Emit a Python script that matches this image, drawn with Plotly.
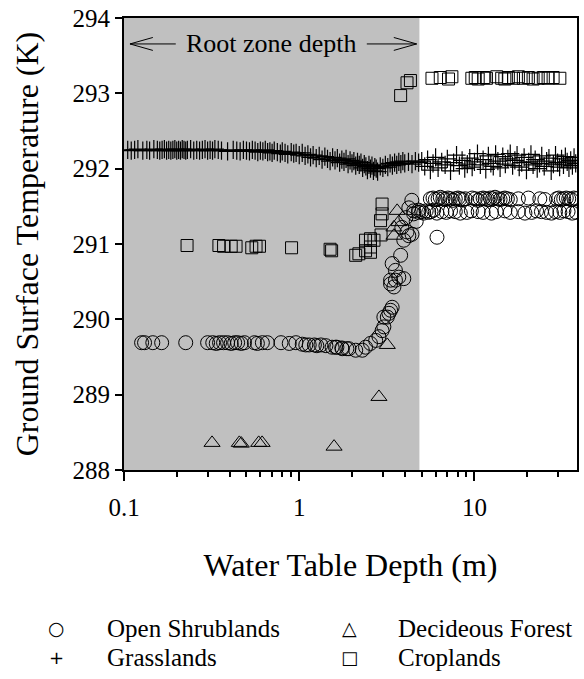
import plotly.graph_objects as go

# ---------------- data ----------------
ROOT_ZONE_DEPTH = 4.85  # m, edge of the shaded band

shrub_x = [0.126, 0.131, 0.146, 0.164, 0.225, 0.300, 0.321, 0.336, 0.351, 0.370,
           0.390, 0.409, 0.428, 0.445, 0.467, 0.487, 0.555, 0.577, 0.616, 0.658,
           0.787, 0.877, 0.957, 1.04, 1.09, 1.14, 1.22, 1.26, 1.33, 1.42,
           1.54, 1.61, 1.64, 1.75, 1.76, 1.87, 1.92, 2.10, 2.29, 2.39,
           2.55, 2.73, 2.85, 2.97, 3.04, 3.04, 3.18, 3.25, 3.32, 3.39,
           3.32, 3.47, 3.54, 3.32, 3.70, 3.95, 3.79, 3.39, 3.54, 3.95,
           4.22, 4.40, 4.12, 4.39, 4.22, 4.06, 3.85, 4.50, 4.80, 4.65,
           6.11,
           5.60, 5.80, 5.98, 6.20, 6.38, 6.60, 6.82, 7.05, 7.28, 7.55,
           7.77, 8.05, 8.29, 8.55, 8.85, 9.70, 10.1, 10.5, 10.8, 11.2,
           11.5, 11.9, 12.3, 12.7, 13.1, 13.6, 14.0, 14.5, 14.9, 15.4,
           16.0, 17.8, 20.3, 23.6, 25.2, 29.4, 30.3, 31.3, 32.3, 33.4,
           34.5, 35.7, 36.9, 38.1,
           4.50, 4.80, 5.00, 5.13, 5.30, 5.48, 5.65, 5.85, 6.10, 6.52,
           6.90, 7.30, 7.77, 8.30, 9.04, 9.60, 10.5, 11.2, 12.5, 13.3,
           14.9, 16.0, 17.8, 19.4, 21.2, 22.6, 24.1, 25.8, 27.5, 29.0,
           30.7, 32.4, 34.2, 36.1, 38.1]
shrub_y = [289.69, 289.69, 289.69, 289.69, 289.69, 289.69, 289.69, 289.68, 289.69, 289.69,
           289.69, 289.68, 289.69, 289.69, 289.68, 289.69, 289.69, 289.68, 289.69, 289.69,
           289.69, 289.68, 289.69, 289.67, 289.66, 289.66, 289.66, 289.65, 289.66, 289.65,
           289.63, 289.63, 289.63, 289.62, 289.61, 289.61, 289.61, 289.59, 289.59, 289.63,
           289.68, 289.72, 289.77, 289.85, 289.90, 290.03, 290.03, 290.08, 290.12, 290.16,
           290.47, 290.43, 290.52, 290.52, 290.56, 290.54, 290.85, 290.74, 290.65, 291.05,
           291.11, 291.13, 291.16, 291.58, 291.48, 291.35, 291.22, 291.40, 291.45, 291.30,
           291.09,
           291.60, 291.61, 291.59, 291.60, 291.62, 291.60, 291.59, 291.61, 291.60, 291.58,
           291.60, 291.61, 291.60, 291.59, 291.60, 291.61, 291.60, 291.58, 291.60, 291.61,
           291.60, 291.59, 291.61, 291.60, 291.62, 291.60, 291.59, 291.60, 291.61, 291.60,
           291.59, 291.60, 291.61, 291.60, 291.59, 291.60, 291.61, 291.59, 291.60, 291.61,
           291.60, 291.59, 291.61, 291.60,
           291.44, 291.42, 291.43, 291.41, 291.44, 291.42, 291.43, 291.45, 291.41, 291.43,
           291.42, 291.44, 291.43, 291.41, 291.42, 291.44, 291.43, 291.42, 291.41, 291.43,
           291.44, 291.42, 291.43, 291.41, 291.42, 291.44, 291.43, 291.42, 291.41, 291.43,
           291.42, 291.44, 291.43, 291.41, 291.42]

grass_x = [0.105, 0.110, 0.115, 0.120, 0.128, 0.135, 0.140, 0.148, 0.155, 0.160,
           0.165, 0.170, 0.175, 0.180, 0.185, 0.190, 0.195, 0.200, 0.205, 0.210,
           0.215, 0.220, 0.225, 0.230, 0.240, 0.250, 0.260, 0.270, 0.280, 0.290,
           0.300, 0.310, 0.320, 0.330, 0.345, 0.360, 0.390, 0.420, 0.440, 0.460,
           0.480, 0.500, 0.520, 0.540, 0.560, 0.580, 0.600, 0.620, 0.640, 0.660,
           0.680, 0.700, 0.720, 0.750, 0.780, 0.800, 0.830, 0.860, 0.900, 0.930,
           0.960, 1.00, 1.04, 1.08, 1.12, 1.16, 1.20, 1.25, 1.30, 1.35,
           1.40, 1.45, 1.50, 1.55, 1.60, 1.65, 1.70, 1.75, 1.80, 1.85,
           1.90, 1.95, 2.00, 2.05, 2.10, 2.15, 2.20, 2.25, 2.30, 2.35,
           2.40, 2.45, 2.50, 2.55, 2.60, 2.65, 2.70, 2.75, 2.80, 2.90,
           3.00, 3.10, 3.20, 3.30, 3.40, 3.50, 3.60, 3.70, 3.80, 3.90,
           4.00, 4.20, 4.40, 4.60, 4.80,
           5.00, 5.20, 5.40, 5.60, 5.80, 6.00, 6.20, 6.50, 6.80, 7.00,
           7.30, 7.60, 7.90, 8.20, 8.50, 8.80, 9.10, 9.40, 9.70, 10.0,
           10.4, 10.8, 11.2, 11.6, 12.0, 12.4, 12.8, 13.2, 13.6, 14.0,
           14.5, 15.0, 15.5, 16.0, 16.5, 17.0, 17.5, 18.0, 18.6, 19.2,
           19.8, 20.4, 21.0, 21.6, 22.2, 22.8, 23.5, 24.2, 25.0, 25.8,
           26.6, 27.4, 28.2, 29.0, 29.8, 30.6, 31.4, 32.2, 33.0, 33.8,
           34.6, 35.4, 36.2, 37.0, 37.8]
grass_y = [292.25, 292.24, 292.25, 292.26, 292.24, 292.25, 292.24, 292.26, 292.25, 292.24,
           292.25, 292.26, 292.24, 292.25, 292.24, 292.25, 292.26, 292.24, 292.25, 292.24,
           292.26, 292.25, 292.24, 292.25, 292.26, 292.24, 292.25, 292.24, 292.25, 292.26,
           292.24, 292.25, 292.24, 292.26, 292.25, 292.24, 292.23, 292.25, 292.24, 292.23,
           292.25, 292.24, 292.23, 292.25, 292.24, 292.22, 292.24, 292.23, 292.25, 292.22,
           292.23, 292.21, 292.24, 292.22, 292.20, 292.23, 292.21, 292.19, 292.22, 292.20,
           292.21, 292.18, 292.21, 292.17, 292.19, 292.15, 292.18, 292.14, 292.17, 292.12,
           292.16, 292.13, 292.10, 292.15, 292.11, 292.14, 292.08, 292.12, 292.09, 292.13,
           292.06, 292.11, 292.07, 292.10, 292.04, 292.09, 292.05, 292.08, 292.01, 292.06,
           292.03, 291.98, 292.05, 292.00, 292.04, 291.97, 292.02, 292.00, 291.96, 292.03,
           292.01, 292.05, 292.02, 292.07, 292.04, 292.08, 292.05, 292.09, 292.06, 292.10,
           292.07, 292.09, 292.06, 292.10, 292.08,
           292.10, 292.03, 292.12, 291.98, 292.07, 292.15, 292.01, 292.09, 292.05, 292.13,
           291.97, 292.08, 292.18, 292.04, 292.11, 292.00, 292.06, 292.14, 292.02, 292.09,
           292.20, 292.05, 292.12, 291.99, 292.17, 292.07, 292.03, 292.19, 292.10, 292.01,
           292.16, 292.06, 292.13, 292.20, 292.04, 292.11, 292.18, 292.02, 292.08, 292.15,
           291.98, 292.09, 292.19, 292.05, 292.12, 292.00, 292.07, 292.17, 292.03, 292.10,
           292.14, 291.97, 292.06, 292.18, 292.08, 292.02, 292.13, 292.05, 292.16, 292.09,
           292.01, 292.11, 292.04, 292.15, 292.07]

forest_x = [0.318, 0.455, 0.467, 0.587, 0.614, 1.58, 2.85, 3.18, 3.47, 3.47, 3.62, 3.70]
forest_y = [288.36, 288.36, 288.35, 288.36, 288.36, 288.31, 288.97, 289.66, 291.11, 291.22, 291.44, 291.29]

crop_x = [0.229, 0.348, 0.370, 0.409, 0.436, 0.536, 0.567, 0.593, 0.904,
          1.50, 1.53, 2.10, 2.19, 2.39, 2.55, 2.55, 2.67, 2.39, 2.55,
          2.91, 2.93, 2.97, 2.97,
          3.79, 4.12, 4.31,
          5.72, 6.38, 7.11, 7.43, 9.66, 10.1, 10.5, 11.3, 11.7, 13.4,
          14.3, 14.9, 15.6, 16.7, 17.8, 19.0, 20.3, 21.6, 23.1, 24.7,
          26.3, 28.1, 30.7]
crop_y = [290.98, 290.98, 290.97, 290.97, 290.97, 290.95, 290.97, 290.97, 290.95,
          290.93, 290.91, 290.85, 290.87, 290.91, 290.96, 290.89, 291.05, 291.05, 291.07,
          291.31, 291.12, 291.53, 291.40,
          292.97, 293.14, 293.17,
          293.20, 293.21, 293.19, 293.22, 293.20, 293.21, 293.19, 293.21, 293.20, 293.22,
          293.20, 293.19, 293.21, 293.20, 293.22, 293.20, 293.21, 293.19, 293.20, 293.21,
          293.20, 293.21, 293.20]

x_tick_vals = [0.1, 1, 10]
x_tick_text = ["0.1", "1", "10"]
x_minor_vals = [0.2, 0.3, 0.4, 0.5, 0.6, 0.7, 0.8, 0.9,
                2, 3, 4, 5, 6, 7, 8, 9, 20, 30]
y_tick_vals = [288, 289, 290, 291, 292, 293, 294]

legend_items = [("○", "Open Shrublands", 19), ("+", "Grasslands", 18),
                ("△", "Decideous Forest", 19), ("□", "Croplands", 18)]

# ---------------- figure ----------------
FONT = "Liberation Serif, Times New Roman, serif"
BLACK = "black"

fig = go.Figure()

fig.add_shape(type="rect", xref="x", yref="paper",
              x0=0.1, x1=ROOT_ZONE_DEPTH, y0=0, y1=1,
              fillcolor="#c0c0c0", line=dict(width=0), layer="below")

fig.add_trace(go.Scatter(x=crop_x, y=crop_y, mode="markers", name="Croplands",
                         marker=dict(symbol="square-open", size=12,
                                     color=BLACK, line=dict(width=1, color=BLACK))))
fig.add_trace(go.Scatter(x=forest_x, y=forest_y, mode="markers", name="Decideous Forest",
                         marker=dict(symbol="triangle-up-open", size=14,
                                     color=BLACK, line=dict(width=1, color=BLACK))))
fig.add_trace(go.Scatter(x=grass_x, y=grass_y, mode="markers", name="Grasslands",
                         marker=dict(symbol="cross-thin-open", size=13,
                                     color=BLACK, line=dict(width=1.2, color=BLACK))))
fig.add_trace(go.Scatter(x=shrub_x, y=shrub_y, mode="markers", name="Open Shrublands",
                         marker=dict(symbol="circle-open", size=14,
                                     color=BLACK, line=dict(width=1, color=BLACK))))

# "Root zone depth" label with double-sided arrow
arrow_y = 0.9426
dy = 0.0143
for tip, tail, arm in [(0.0132, 0.1143, 0.0637), (0.646, 0.536, 0.5956)]:
    fig.add_shape(type="line", xref="paper", yref="paper",
                  x0=tip, x1=tail, y0=arrow_y, y1=arrow_y,
                  line=dict(color=BLACK, width=1))
    fig.add_shape(type="path", xref="paper", yref="paper",
                  path=f"M {arm},{arrow_y + dy} L {tip},{arrow_y} L {arm},{arrow_y - dy}",
                  line=dict(color=BLACK, width=1))
fig.add_annotation(text="Root zone depth", xref="paper", yref="paper",
                   x=0.325, y=arrow_y, showarrow=False,
                   xanchor="center", yanchor="middle",
                   font=dict(family=FONT, size=26, color=BLACK))

# key below the plot
key_pos = [(-0.150, -0.0418, -0.3499), (-0.150, -0.0418, -0.4139),
           (0.4967, 0.600, -0.3499), (0.4967, 0.600, -0.4139)]
for (sym, label, sym_size), (xs, xt, yy) in zip(legend_items, key_pos):
    fig.add_annotation(text=sym, xref="paper", yref="paper", x=xs, y=yy,
                       showarrow=False, xanchor="center", yanchor="middle",
                       font=dict(family="DejaVu Sans", size=sym_size, color=BLACK))
    fig.add_annotation(text=label, xref="paper", yref="paper", x=xt, y=yy,
                       showarrow=False, xanchor="left", yanchor="middle",
                       font=dict(family=FONT, size=25, color=BLACK))

fig.update_layout(
    width=584, height=679,
    margin=dict(l=124, r=5, t=17, b=209),
    paper_bgcolor="white", plot_bgcolor="white",
    showlegend=False,
    font=dict(family=FONT, color=BLACK),
)
fig.update_xaxes(
    type="log", range=[-1, 1.585],
    tickvals=x_tick_vals, ticktext=x_tick_text,
    ticks="outside", ticklen=9, tickwidth=2, tickcolor=BLACK,
    ticklabelstandoff=5,
    minor=dict(tickvals=x_minor_vals, ticks="outside", ticklen=5,
               tickwidth=1.5, tickcolor=BLACK, showgrid=False),
    showline=True, linewidth=2, linecolor=BLACK, mirror=True,
    showgrid=False, zeroline=False,
    tickfont=dict(family=FONT, size=25, color=BLACK),
    title=dict(text="Water Table Depth (m)", standoff=34,
               font=dict(family=FONT, size=32, color=BLACK)),
)
fig.update_yaxes(
    range=[288, 294], tickvals=y_tick_vals,
    ticks="outside", ticklen=7, tickwidth=2, tickcolor=BLACK,
    showline=True, linewidth=2, linecolor=BLACK, mirror=True,
    showgrid=False, zeroline=False,
    tickfont=dict(family=FONT, size=25, color=BLACK),
    title=dict(text="Ground Surface Temperature (K)", standoff=24,
               font=dict(family=FONT, size=32, color=BLACK)),
)

fig.write_html("out.html")
